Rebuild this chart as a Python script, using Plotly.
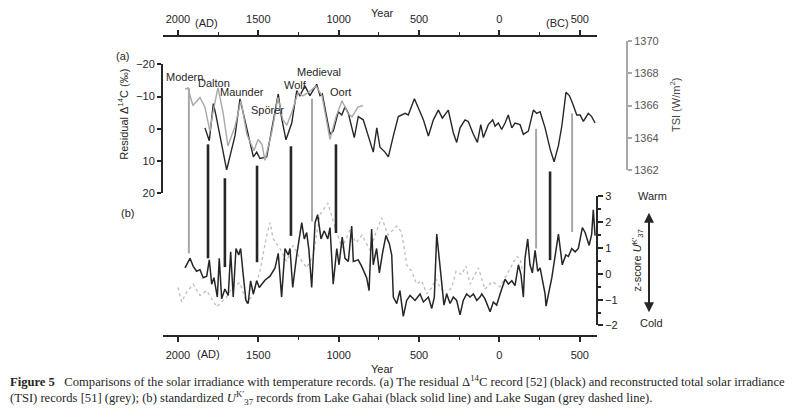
import plotly.graph_objects as go

# ---------------- data (years AD; negative = BC) ----------------
c14_record = [(1832, -0.3), (1805, 3.7), (1780, -7.8), (1764, -4.3), (1697, 12.7), (1645, 2.1),
              (1614, -9.3), (1572, 0.2), (1531, 8.7), (1510, 7.2), (1490, 9.2), (1448, 8.7),
              (1407, -1.8), (1376, -10.8), (1355, -3.3), (1328, 3.4), (1292, -1.8), (1261, -11.8),
              (1241, -10.3), (1210, -13.3), (1179, -10.3), (1137, -13.8), (1116, -10.3), (1102, -10.8),
              (1054, 1.7), (1034, 0.7), (1002, -5.3), (981, -4.3), (961, -6.8), (940, -4.8),
              (903, 2.7), (878, -3.8), (847, -2.8), (816, 2.2), (785, 7.2), (763, -0.3),
              (743, 5.7), (712, 7.2), (691, 8.7), (660, 2.2), (629, -3.8), (587, -4.8),
              (567, -4.3), (529, -9.3), (505, -6.3), (473, -2.8), (442, 2.2), (411, -2.8),
              (380, -5.8), (355, -3.3), (318, -5.8), (287, 1.2), (266, 4.2), (245, -0.3),
              (214, -2.8), (194, -2.3), (162, 1.7), (137, 4.2), (116, -1.3), (100, 2.7),
              (69, -1.3), (42, -2.8), (27, -0.8), (7, -1.8), (-14, 0.2), (-35, -1.8),
              (-55, -4.3), (-77, -0.3), (-97, -1.8), (-128, -1.3), (-149, 1.7), (-180, 0.7),
              (-211, -5.8), (-232, -4.8), (-253, -5.3), (-284, -0.3), (-315, 6.2), (-340, 10.2),
              (-367, 5.2), (-388, -0.8), (-414, -11.3), (-435, -10.3), (-456, -7.8), (-481, -4.3),
              (-502, -4.3), (-522, -2.3), (-553, -4.8), (-574, -3.8), (-595, -1.8)]

tsi_record = [(1956, 1367.0), (1938, 1367.1), (1907, 1366.0), (1863, 1366.5), (1832, 1365.9),
              (1801, 1364.4), (1782, 1365.6), (1751, 1367.1), (1720, 1365.6), (1689, 1363.5),
              (1645, 1364.7), (1608, 1366.3), (1571, 1364.2), (1527, 1363.2), (1502, 1363.9),
              (1477, 1363.6), (1459, 1362.6), (1415, 1364.4), (1378, 1366.5), (1347, 1365.1),
              (1322, 1364.8), (1291, 1365.6), (1253, 1366.8), (1222, 1366.6), (1179, 1366.9),
              (1141, 1367.2), (1104, 1366.6), (1054, 1363.9), (1017, 1365.3), (979, 1366.3),
              (942, 1365.5), (917, 1365.3), (880, 1365.9), (849, 1366.0)]

gahai_record = [(1956, 0.23), (1925, 0.6), (1905, 0.29), (1884, 0.1), (1863, 0.16), (1843, -0.15),
                (1821, -0.09), (1805, 0.54), (1790, -0.4), (1776, -0.15), (1755, -0.9), (1743, 0.6),
                (1728, -0.97), (1708, -0.59), (1687, -0.84), (1672, 0.85), (1656, -0.9), (1639, 0.98),
                (1622, 0.73), (1610, 0.98), (1594, -0.03), (1577, -1.03), (1563, -1.15), (1548, -0.27),
                (1531, -0.78), (1510, -0.27), (1494, -0.53), (1479, -0.4), (1459, -0.25), (1427, -0.09),
                (1396, 0.23), (1376, 0.79), (1355, -0.9), (1334, 0.98), (1314, 0.73), (1303, 0.98),
                (1286, -0.53), (1261, 0.73), (1230, 1.98), (1214, 1.35), (1199, 1.6), (1185, 0.91),
                (1168, -0.53), (1147, 1.98), (1131, 2.29), (1110, 1.35), (1090, 1.67), (1068, 1.35),
                (1054, 1.79), (1034, -0.4), (1012, 0.98), (998, 0.35), (978, 1.42), (961, 0.6),
                (940, 0.48), (919, 1.85), (909, 0.48), (878, 0.54), (857, 0.29), (826, -0.15),
                (811, -0.65), (795, 1.73), (785, 0.35), (764, 0.98), (747, 0.04), (726, 0.85),
                (706, 1.48), (685, 1.17), (670, 0.73), (660, -0.9), (639, -1.15), (619, -0.65),
                (598, -1.65), (577, -1.03), (556, -0.84), (525, -1.03), (494, -0.78), (473, -1.09),
                (442, -0.9), (421, -1.34), (405, -0.9), (390, 1.54), (370, 0.35), (359, -0.53),
                (345, -1.21), (328, -0.78), (307, -1.15), (287, -0.9), (266, -1.03), (245, -1.59),
                (225, -1.03), (204, -0.78), (183, -0.9), (162, -0.78), (141, -1.03), (121, -0.9),
                (110, -0.78), (90, -0.97), (58, -1.47), (38, -1.09), (17, -1.21), (-4, -0.78),
                (-35, -0.21), (-56, -0.4), (-77, -0.27), (-97, -0.46), (-118, 0.35), (-134, -0.03),
                (-149, -0.9), (-159, 0.6), (-176, 1.35), (-190, 0.35), (-205, 0.04), (-222, 0.91),
                (-238, 0.1), (-253, 0.23), (-284, -0.78), (-290, -1.25), (-326, -0.15), (-367, 1.54),
                (-391, 0.35), (-413, 0.73), (-429, 0.67), (-450, 0.98), (-471, 0.85), (-491, 0.98),
                (-516, 1.79), (-533, 1.6), (-558, 1.1), (-574, 1.54), (-584, 2.48), (-595, 1.48)]

sugan_record = [(2000, -0.53), (1977, -1.09), (1946, -0.71), (1905, -0.4), (1863, -0.84), (1821, -0.65),
                (1759, -1.28), (1697, -0.9), (1658, -0.5), (1614, -0.34), (1572, -1.15), (1531, -0.78),
                (1490, 0.1), (1448, 1.48), (1427, 1.98), (1407, 1.35), (1365, 0.98), (1324, 0.48),
                (1283, 1.1), (1241, 0.6), (1199, 0.23), (1158, 0.73), (1116, 2.3), (1067, 2.74),
                (1023, 1.8), (979, 1.0), (930, 1.7), (892, 1.2), (855, 1.5), (805, 0.9), (768, 1.6),
                (732, 2.17), (693, 1.5), (639, 1.85), (608, 1.6), (577, 0.35), (546, 0.1), (515, -0.4),
                (483, -0.27), (452, -0.78), (421, -0.53), (394, -0.2), (370, -0.53), (328, -0.78),
                (295, -0.5), (270, 0.1), (235, -0.03), (208, 0.3), (183, -0.4), (131, 0.23),
                (90, -0.6), (46, -0.3), (-4, -0.5), (-41, -0.1), (-79, 0.3), (-108, 0.67),
                (-128, 0.6), (-141, 0.2)]

# connecting lines: (year, top value on Δ14C axis, bottom value on z-score axis, kind)
event_lines = [(1932, -12.6, 0.79, "grey"), (1813, 4.8, 0.6, "black"), (1708, 15.3, 0.26, "black"),
               (1508, 11.4, 0.45, "black"), (1297, 5.4, 1.47, "black"), (1166, -9.3, 2.03, "grey"),
               (1017, 4.8, 1.58, "black"), (-228, 0.0, 0.98, "grey"), (-315, 13.2, 0.53, "black"),
               (-452, -4.8, 1.62, "grey")]

event_labels = [("Modern", 1962, -16.2), ("Dalton", 1775, -14.1), ("Maunder", 1600, -11.4),
                ("Spörer", 1440, -5.7), ("Wolf", 1270, -13.5), ("Medieval", 1120, -17.7),
                ("Oort", 990, -11.4)]

year_ticks = [2000, 1500, 1000, 500, 0, -500]
year_ticktext = ["2000", "1500", "1000", "500", "0", "500"]

# ---------------- layout geometry (pixels) ----------------
W, H = 797, 415
def px(x): return x / W
def py(y): return 1 - y / H

X_DOM = [px(163), px(597)]
X_RANGE = [2093, -607]
A_DOM = [py(193), py(60)];  A_RANGE = [20, -20]
T_DOM = [py(169), py(36)];  T_RANGE = [1362, 1370]
B_DOM = [py(329), py(196)]; B_RANGE = [-2, 3]

def to_paper(v, dom, rng):
    return dom[0] + (v - rng[0]) / (rng[1] - rng[0]) * (dom[1] - dom[0])

FONT = "Liberation Sans, Arial, sans-serif"
BLACK = "#262626"
GREY = "#a8a8a8"

def unzip(rec):
    return [r[0] for r in rec], [r[1] for r in rec]

fig = go.Figure()
cx, cy = unzip(c14_record)
fig.add_trace(go.Scatter(x=cx, y=cy, mode="lines", line=dict(color=BLACK, width=1.4),
                         xaxis="x", yaxis="y", showlegend=False))
tx, ty = unzip(tsi_record)
fig.add_trace(go.Scatter(x=tx, y=ty, mode="lines", line=dict(color=GREY, width=1.4),
                         xaxis="x2", yaxis="y2", showlegend=False))
sx, sy = unzip(sugan_record)
fig.add_trace(go.Scatter(x=sx, y=sy, mode="lines", line=dict(color="#bdbdbd", width=1.3, dash="dot"),
                         xaxis="x", yaxis="y3", showlegend=False))
gx, gy = unzip(gahai_record)
fig.add_trace(go.Scatter(x=gx, y=gy, mode="lines", line=dict(color=BLACK, width=1.5),
                         xaxis="x", yaxis="y3", showlegend=False))

shapes = []
for yr, top, bot, kind in event_lines:
    shapes.append(dict(type="line", xref="x", yref="paper", x0=yr, x1=yr,
                       y0=to_paper(bot, B_DOM, B_RANGE), y1=to_paper(top, A_DOM, A_RANGE),
                       line=dict(color=BLACK if kind == "black" else GREY,
                                 width=2.6 if kind == "black" else 2)))

ann = []
for name, yr, v in event_labels:
    ann.append(dict(text=name, x=yr, y=v, xref="x", yref="y", showarrow=False,
                    font=dict(size=11, color=BLACK)))

def txt(t, x, y, size=11, color=BLACK, angle=0, xanchor="center", family=FONT):
    ann.append(dict(text=t, x=px(x), y=py(y), xref="paper", yref="paper", showarrow=False,
                    textangle=angle, xanchor=xanchor, yanchor="middle",
                    font=dict(size=size, color=color, family=family)))

txt("(a)", 122, 52)
txt("(b)", 127, 213)
txt("Residual Δ<sup>14</sup>C (‰)", 123, 112, angle=-90)
txt("TSI (W/m<sup>2</sup>)", 675, 102, color="#444", angle=-90)
txt("z-score <i>U</i><sup>K′</sup><sub>37</sub>", 638, 262, angle=-90)
txt("Warm", 652, 196)
txt("Cold", 651, 326)
txt("Year", 382, 7)
txt("Year", 382, 374)
txt("(AD)", 207, 17)
txt("(BC)", 557, 17)
txt("(AD)", 208, 358)

ann.append(dict(x=px(649), y=py(213), xref="paper", yref="paper", ax=0, ay=101,
                text="", showarrow=True, arrowhead=2, startarrowhead=2, arrowside="end+start",
                arrowsize=1, arrowwidth=2, arrowcolor=BLACK))

SERIF = "Liberation Serif, Times New Roman, serif"
txt("<b>Figure 5</b>   Comparisons of the solar irradiance with temperature records. (a) The residual "
    "Δ<sup>14</sup>C record [52] (black) and reconstructed total solar irradiance",
    8, 386, size=12.6, xanchor="left", family=SERIF)
txt("(TSI) records [51] (grey); (b) standardized <i>U</i><sup>K′</sup><sub>37</sub> records from Lake Gahai "
    "(black solid line) and Lake Sugan (grey dashed line).",
    8, 404, size=12.6, xanchor="left", family=SERIF)

xcommon = dict(domain=X_DOM, range=X_RANGE, tickmode="array", tickvals=year_ticks,
               ticktext=year_ticktext, showline=True, linecolor=BLACK, linewidth=2,
               ticks="outside", ticklen=5, tickwidth=1.5, tickcolor=BLACK, showgrid=False,
               zeroline=False, tickfont=dict(size=11, color=BLACK, family=FONT),
               minor=dict(ticks="outside", ticklen=3, tickwidth=1, tickcolor=BLACK, dtick=250, tick0=0))

fig.update_layout(
    width=W, height=H, margin=dict(l=0, r=0, t=0, b=0),
    paper_bgcolor="white", plot_bgcolor="rgba(0,0,0,0)",
    font=dict(family=FONT, size=11, color=BLACK),
    xaxis=dict(**xcommon, anchor="free", position=py(340), side="bottom", ticklabelstandoff=4),
    xaxis2=dict(**xcommon, anchor="free", position=py(31), side="top", overlaying="x", matches="x",
                ticklabelstandoff=3),
    yaxis=dict(domain=A_DOM, range=A_RANGE, anchor="free", position=px(162), side="left",
               tickvals=[-20, -10, 0, 10, 20], showline=True, linecolor=BLACK, linewidth=2,
               ticks="outside", ticklen=4, tickwidth=1.5, tickcolor=BLACK, showgrid=False,
               zeroline=False, tickfont=dict(size=11, color=BLACK)),
    yaxis2=dict(domain=T_DOM, range=T_RANGE, anchor="free", position=px(627), side="right",
                tickvals=[1362, 1364, 1366, 1368, 1370], showline=True, linecolor=GREY, linewidth=2,
                ticks="outside", ticklen=4, tickwidth=1.5, tickcolor=GREY, showgrid=False,
                zeroline=False, tickfont=dict(size=11, color="#555")),
    yaxis3=dict(domain=B_DOM, range=B_RANGE, anchor="free", position=px(597), side="right",
                tickvals=[-2, -1, 0, 1, 2, 3], showline=True, linecolor=BLACK, linewidth=2,
                ticks="outside", ticklen=5, tickwidth=1.5, tickcolor=BLACK, showgrid=False,
                zeroline=False, tickfont=dict(size=11, color=BLACK),
                minor=dict(ticks="outside", ticklen=3, tickcolor=BLACK, dtick=0.5)),
    shapes=shapes, annotations=ann,
)

fig.write_html("out.html")
